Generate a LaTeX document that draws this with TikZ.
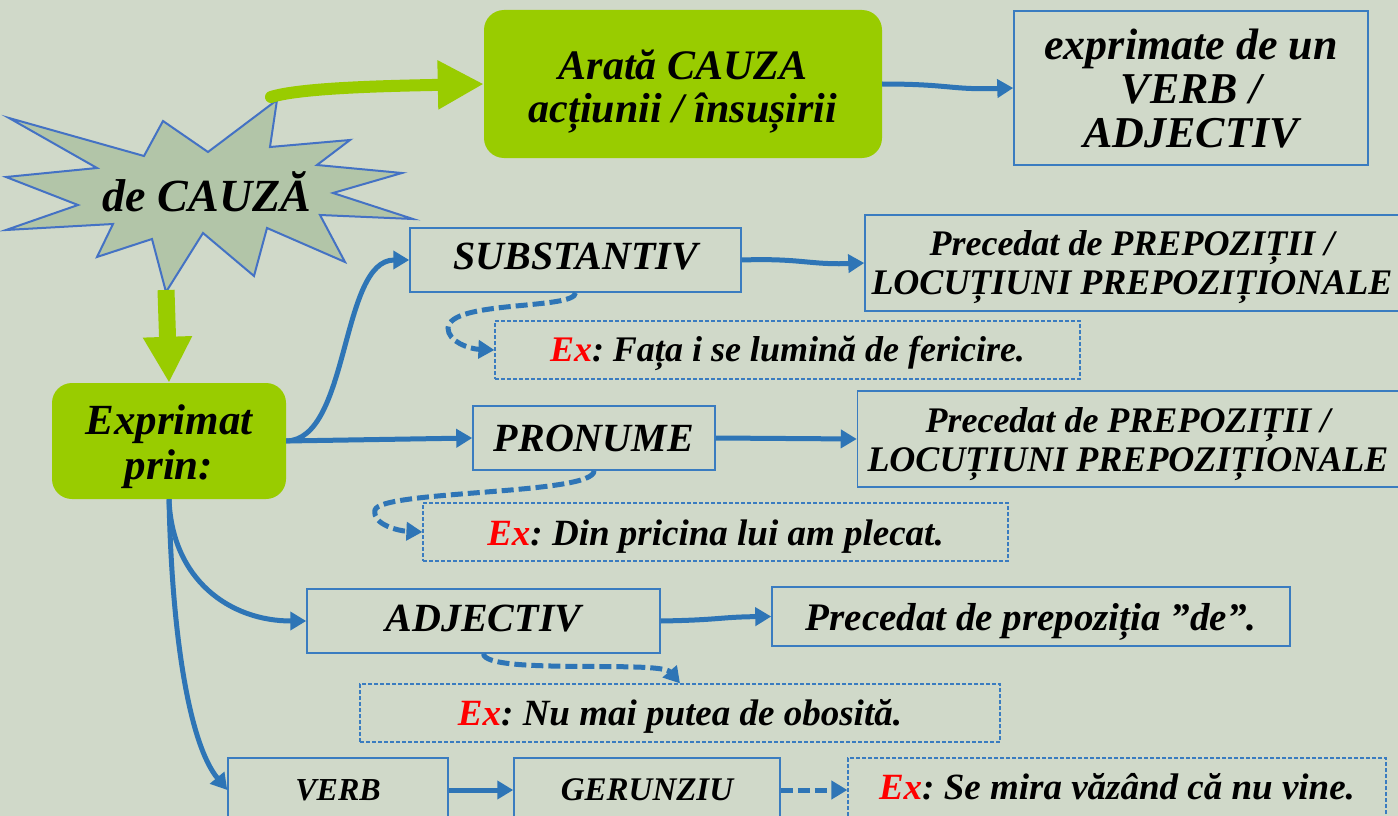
\documentclass[tikz,border=0pt]{standalone}
\usepackage{fontspec}
\setmainfont{Liberation Serif}
\usetikzlibrary{arrows.meta}
\definecolor{bg}{HTML}{D0D9C9}
\definecolor{lime}{HTML}{99CC00}
\definecolor{linkblue}{HTML}{2E75B6}
\definecolor{boxblue}{HTML}{3A7CC0}
\definecolor{starfill}{HTML}{B2C5A8}
\definecolor{starline}{HTML}{4472C4}
\tikzset{
 txt/.style={font=\bfseries\itshape, align=center, text=black, inner sep=0pt},
 greenbox/.style={txt, fill=lime, rounded corners=20pt},
 solidbox/.style={txt, draw=boxblue, line width=1.5pt},
 exbox/.style={txt, draw=boxblue, line width=1.2pt, dash pattern=on 4pt off 2pt},
 link/.style={draw=linkblue, line width=5pt, -{Triangle[length=16pt,width=18pt]}},
 dlink/.style={link, dash pattern=on 12pt off 5pt},
 bigarrow/.style={draw=lime, line cap=round, -{Triangle[length=46pt,width=46pt]}},
}
\newcommand{\ex}{{\color{red}Ex}:\kern-3pt}
\newcommand{\dn}[2]{\raisebox{-#1}[\height][\depth]{\begin{tabular}{@{}c@{}}#2\end{tabular}}}
\begin{document}
\begin{tikzpicture}[x=1pt,y=-1pt]
\fill[bg] (0,0) rectangle (1398,816);
\useasboundingbox (0,0) rectangle (1398,816);
\clip (0,0) rectangle (1398,816);
% starburst
\filldraw[fill=starfill, draw=starline, line width=2pt, line join=miter]
 (9,118) -- (144,156) -- (163,121) -- (208,152) -- (277,100) -- (270,147) -- (350,140)
 -- (317,165) -- (402,173) -- (333,193) -- (413,219) -- (320,215) -- (345,262)
 -- (267,228) -- (254,276) -- (203,233) -- (166,292) -- (152,239) -- (97,257)
 -- (113,224) -- (6,230) -- (78,205) -- (6,177) -- (97,168) -- cycle;
\node[txt, font=\fontsize{46}{50}\selectfont\bfseries\itshape] (star) at (207,192) {de CAUZĂ};
\coordinate (startop) at (271,97);
\coordinate (starbot) at (166,290);
% green boxes
\node[greenbox, minimum width=398, minimum height=148, font=\fontsize{42}{43}\selectfont\bfseries\itshape] (arata) at (683,84) {\dn{8pt}{Arată CAUZA\\acțiunii / însușirii}};
\node[greenbox, minimum width=234, minimum height=116, font=\fontsize{43}{45}\selectfont\bfseries\itshape] (expr) at (169,441) {\dn{7pt}{Exprimat\\prin:}};
% boxes
\node[solidbox, minimum width=354, minimum height=154, font=\fontsize{44}{44}\selectfont\bfseries\itshape] (vadj) at (1191,88) {\dn{7pt}{exprimate de un\\VERB /\\ADJECTIV}};
\node[solidbox, minimum width=331, minimum height=64, font=\fontsize{40}{44}\selectfont\bfseries\itshape] (subst) at (575.5,260) {\dn{1pt}{SUBSTANTIV}};
\node[solidbox, minimum width=534, minimum height=96, font=\fontsize{36}{39}\selectfont\bfseries\itshape] (prec1) at (1132,263) {\dn{4pt}{Precedat de PREPOZIȚII /\\LOCUȚIUNI PREPOZIȚIONALE}};
\node[exbox, minimum width=585, minimum height=58, font=\fontsize{36}{40}\selectfont\bfseries\itshape] (ex1) at (787.5,350) {\dn{3pt}{\ex{} Fața i se lumină de fericire.}};
\node[solidbox, minimum width=242, minimum height=64, font=\fontsize{40}{44}\selectfont\bfseries\itshape] (pron) at (594,438) {PRONUME};
\node[solidbox, minimum width=541, minimum height=96, font=\fontsize{36}{39}\selectfont\bfseries\itshape] (prec2) at (1128,439) {\dn{5pt}{Precedat de PREPOZIȚII /\\LOCUȚIUNI PREPOZIȚIONALE}};
\node[exbox, minimum width=585, minimum height=58, font=\fontsize{37}{40}\selectfont\bfseries\itshape] (ex2) at (715.5,532) {\dn{5pt}{\ex{} Din pricina lui am plecat.}};
\node[solidbox, minimum width=353, minimum height=64, font=\fontsize{40}{44}\selectfont\bfseries\itshape] (adj) at (483.5,621) {\dn{2pt}{ADJECTIV}};
\node[solidbox, minimum width=518, minimum height=59, font=\fontsize{39}{42}\selectfont\bfseries\itshape] (prec3) at (1031,616.5) {\dn{6pt}{Precedat de prepoziția ”de”.}};
\node[exbox, minimum width=640, minimum height=58, font=\fontsize{37}{40}\selectfont\bfseries\itshape] (ex3) at (680,713) {\dn{4pt}{\ex{} Nu mai putea de obosită.}};
\node[solidbox, minimum width=220, minimum height=64, font=\fontsize{32}{36}\selectfont\bfseries\itshape] (verb) at (338,790) {VERB};
\node[solidbox, minimum width=266, minimum height=64, font=\fontsize{33}{36}\selectfont\bfseries\itshape] (ger) at (647,790) {GERUNZIU};
\node[exbox, minimum width=538, minimum height=64, font=\fontsize{37}{40}\selectfont\bfseries\itshape] (ex4) at (1117,790) {\dn{1pt}{\ex{} Se mira văzând că nu vine.}};
% green arrows
\draw[bigarrow, line width=12pt] (startop) .. controls (300,88) and (380,86) .. (arata.west);
\draw[bigarrow, line width=17pt, line cap=butt] (starbot) -- (expr.north);
% blue links
\draw[link] (arata.east) .. controls (950,84) and (950,90) .. (vadj.west);
\draw[link] (expr.east) .. controls (350,440) and (340,260) .. (subst.west);
\draw[link] (expr.east) -- (pron.west);
\draw[link] (expr.south) .. controls (172,580) and (230,621) .. (adj.west);
\draw[link] (expr.south) .. controls (172,640) and (190,745) .. (verb.west);
\draw[link] (subst.east) .. controls (800,258) and (810,265) .. (prec1.west);
\draw[link] (pron.east) -- (prec2.west);
\draw[link] (adj.east) .. controls (720,620) and (720,617) .. (prec3.west);
\draw[link] (verb.east) -- (ger.west);
\draw[dlink] (ger.east) -- (ex4.west);
\draw[dlink] (subst.south) .. controls (575,310) and (450,300) .. (448,328) .. controls (448,342) and (470,349) .. (ex1.west);
\draw[dlink] (pron.south) .. controls (595,495) and (380,490) .. (375,510) .. controls (372,525) and (400,531) .. (ex2.west);
\draw[dlink] (adj.south) .. controls (485,675) and (660,660) .. (ex3.north);
\end{tikzpicture}
\end{document}
